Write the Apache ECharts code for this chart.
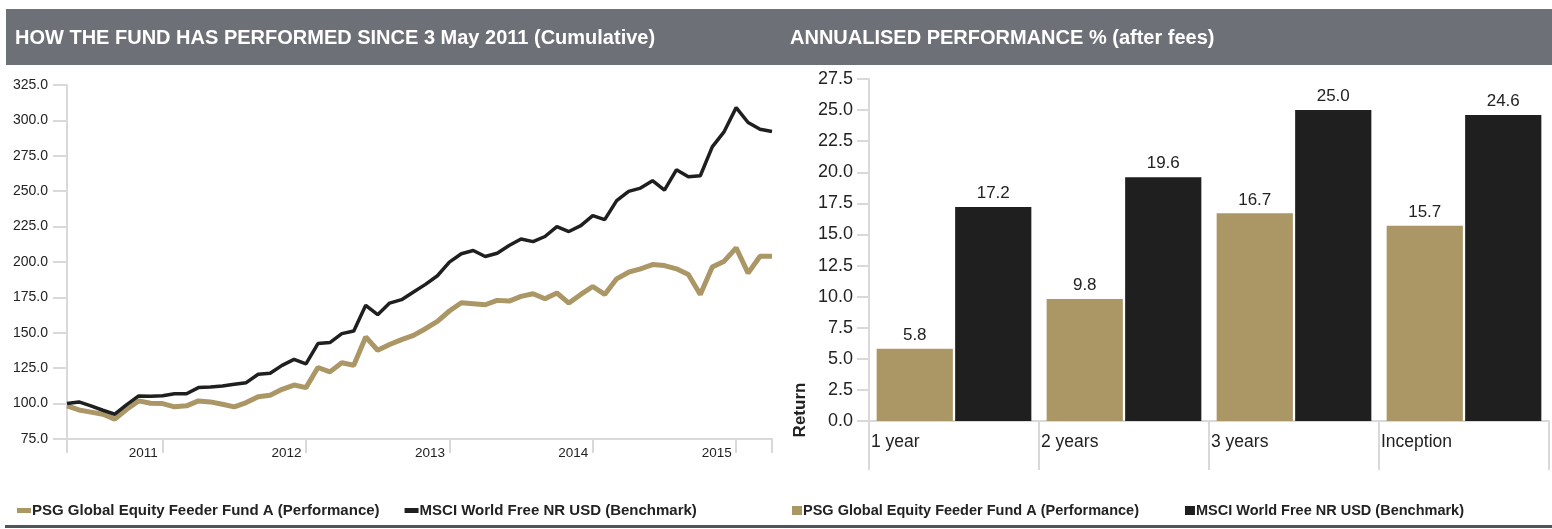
<!DOCTYPE html>
<html>
<head>
<meta charset="utf-8">
<script src="https://cdn.jsdelivr.net/npm/echarts@6/dist/echarts.min.js"></script>
<style>
  html, body { margin: 0; padding: 0; background: #fff; }
  #main { width: 1552px; height: 529px; }
</style>
</head>
<body>
<div id="main"></div>
<script>
// ---- data ----
var fundName = 'PSG Global Equity Feeder Fund A (Performance)';
var benchName = 'MSCI World Free NR USD (Benchmark)';

// cumulative, monthly from May 2011
var perfCum = [98.4, 95.5, 94.0, 92.5, 89.0, 96.0, 101.9, 100.2, 100.0, 97.7,
    98.4, 101.9, 101.2, 99.5, 97.7, 100.7, 104.9, 105.9, 110.1, 113.1,
    111.3, 125.5, 122.4, 128.8, 127.1, 147.1, 137.7, 141.7, 145.2, 148.2,
    152.9, 158.1, 165.4, 171.2, 170.5, 169.8, 172.9, 172.4, 175.7, 177.6,
    174.0, 178.1, 171.0, 177.1, 182.7, 177.1, 188.1, 192.8, 195.2, 198.2,
    197.5, 195.2, 191.2, 177.1, 196.4, 200.6, 210.0, 192.1, 204.1, 204.1];
var benchCum = [100.0, 101.2, 98.4, 95.3, 92.5, 99.3, 105.4, 105.2, 105.5, 107.0,
    107.0, 111.3, 111.7, 112.4, 113.6, 114.8, 120.7, 121.4, 127.0, 131.2,
    128.0, 142.4, 143.1, 149.4, 151.3, 169.4, 162.8, 171.0, 173.4, 178.8,
    184.2, 190.3, 199.9, 205.8, 208.1, 203.9, 206.2, 211.6, 216.3, 214.4,
    218.0, 225.0, 221.5, 225.7, 232.8, 229.9, 243.3, 249.9, 252.2, 257.4,
    250.8, 265.1, 260.2, 260.9, 281.3, 292.1, 309.0, 298.5, 293.8, 292.1];

// month categories
var months = [];
for (var i = 0; i < perfCum.length; i++) {
    var m = 4 + i; // May 2011 = month index 4
    var y = 2011 + Math.floor(m / 12);
    var mm = (m % 12) + 1;
    months.push(y + '-' + (mm < 10 ? '0' + mm : mm));
}

// annualised
var periods = ['1 year', '2 years', '3 years', 'Inception'];
var perfAnn = [5.8, 9.8, 16.7, 15.7];
var benchAnn = [17.2, 19.6, 25.0, 24.6];

var gold = '#ab9766';
var dark = '#1f1f1f';
var axisGrey = '#d9d9d9';
var txt = '#222';
var ff = '"Liberation Sans", Arial, sans-serif';

var chart = echarts.init(document.getElementById('main'));

var option = {
    animation: false,
    textStyle: { fontFamily: ff },
    graphic: [
        // header bar
        { type: 'rect', shape: { x: 6, y: 9, width: 1546, height: 56 }, style: { fill: '#6e7078' } },
        { type: 'text', x: 15, y: 38, style: { text: 'HOW THE FUND HAS PERFORMED SINCE 3 May 2011 (Cumulative)',
            fill: '#fff', font: 'bold 20px ' + ff, textVerticalAlign: 'middle', verticalAlign: 'middle' } },
        { type: 'text', x: 790, y: 38, style: { text: 'ANNUALISED PERFORMANCE % (after fees)',
            fill: '#fff', font: 'bold 20px ' + ff, textVerticalAlign: 'middle', verticalAlign: 'middle' } },
        // bottom rule
        { type: 'rect', shape: { x: 5, y: 525, width: 1547, height: 3 }, style: { fill: '#50555a' } },
        // y axis title of bar chart
        { type: 'text', x: 800, y: 410, rotation: Math.PI / 2, style: { text: 'Return', fill: txt,
            font: 'bold 17px ' + ff, textAlign: 'center', align: 'center', textVerticalAlign: 'middle', verticalAlign: 'middle' } }
    ],
    legend: [
        {
            data: [fundName, benchName],
            left: 12, top: 498,
            icon: 'rect', itemWidth: 14, itemHeight: 5, itemGap: 25,
            textStyle: { fontSize: 15, fontWeight: 'bold', color: txt, fontFamily: ff, padding: [0, 0, 0, -4] },
            selectedMode: false
        },
        {
            data: [fundName, benchName],
            left: 787, top: 498,
            icon: 'rect', itemWidth: 10, itemHeight: 9, itemGap: 46,
            textStyle: { fontSize: 14.5, fontWeight: 'bold', color: txt, fontFamily: ff, padding: [0, 0, 0, -4] },
            selectedMode: false
        }
    ],
    grid: [
        { left: 67, right: 780, top: 85, bottom: 90 },
        { left: 869, right: 3, top: 79, bottom: 108 }
    ],
    xAxis: [
        {
            type: 'category', gridIndex: 0, data: months, boundaryGap: false,
            axisLine: { lineStyle: { color: axisGrey, width: 2 } },
            axisTick: { length: 14, lineStyle: { color: axisGrey, width: 2 },
                interval: function (idx) { return idx === 0 || idx === months.length - 1 || (idx - 8) % 12 === 0; } },
            axisLabel: { color: txt, fontSize: 13.5, margin: 7, padding: [0, 0, 0, 9],
                interval: function (idx) { return idx % 12 === 6; },
                formatter: function (v) { return v.slice(0, 4); } },
            splitLine: { show: false }
        },
        {
            type: 'category', gridIndex: 1, data: periods,
            axisLine: { lineStyle: { color: axisGrey, width: 2 } },
            axisTick: { show: false },
            axisLabel: { show: false }
        },
        {
            // carries the category boundary ticks and left-aligned labels
            type: 'value', gridIndex: 1, min: 0, max: periods.length, interval: 1,
            position: 'bottom',
            axisLine: { show: false },
            axisTick: { show: true, length: 49, lineStyle: { color: axisGrey, width: 2 } },
            axisLabel: { color: txt, fontSize: 17.5, margin: 12, align: 'left', padding: [0, 0, 0, 2],
                showMaxLabel: true,
                formatter: function (v) { return periods[v] || ''; } },
            splitLine: { show: false }
        }
    ],
    yAxis: [
        {
            type: 'value', gridIndex: 0, min: 75, max: 325, interval: 25,
            axisLine: { show: true, lineStyle: { color: axisGrey, width: 2 } },
            axisTick: { show: true, length: 14, lineStyle: { color: axisGrey, width: 2 } },
            axisLabel: { color: txt, fontSize: 14, margin: 19, formatter: function (v) { return v.toFixed(1); } },
            splitLine: { show: false }
        },
        {
            type: 'value', gridIndex: 1, min: 0, max: 27.5, interval: 2.5,
            axisLine: { show: true, lineStyle: { color: axisGrey, width: 2 } },
            axisTick: { show: true, length: 12, lineStyle: { color: axisGrey, width: 2 } },
            axisLabel: { color: txt, fontSize: 18, margin: 16, formatter: function (v) { return v.toFixed(1); } },
            splitLine: { show: false }
        }
    ],
    series: [
        {
            name: fundName, type: 'line', xAxisIndex: 0, yAxisIndex: 0,
            data: perfCum, showSymbol: false, symbol: 'none',
            lineStyle: { color: gold, width: 5 }, itemStyle: { color: gold }, z: 2
        },
        {
            name: benchName, type: 'line', xAxisIndex: 0, yAxisIndex: 0,
            data: benchCum, showSymbol: false, symbol: 'none',
            lineStyle: { color: dark, width: 3.5 }, itemStyle: { color: dark }, z: 3
        },
        {
            name: fundName, type: 'bar', xAxisIndex: 1, yAxisIndex: 1,
            data: perfAnn, barGap: '3%', barCategoryGap: '9%',
            itemStyle: { color: gold },
            label: { show: true, position: 'top', distance: 5, color: txt, fontSize: 17,
                formatter: function (p) { return p.value.toFixed(1); } }
        },
        {
            name: benchName, type: 'bar', xAxisIndex: 1, yAxisIndex: 1,
            data: benchAnn, barGap: '3%', barCategoryGap: '9%',
            itemStyle: { color: dark },
            label: { show: true, position: 'top', distance: 5, color: txt, fontSize: 17,
                formatter: function (p) { return p.value.toFixed(1); } }
        }
    ]
};

chart.setOption(option);
</script>
</body>
</html>
